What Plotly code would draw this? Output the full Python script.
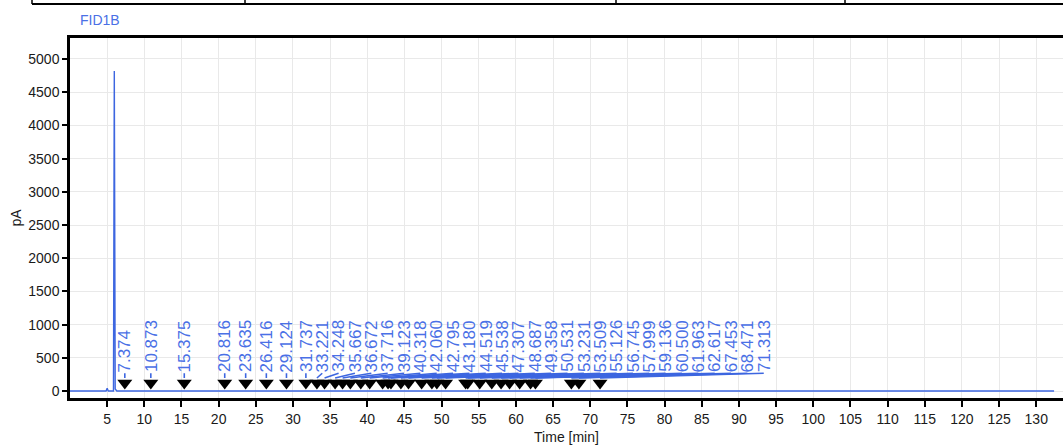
import plotly.graph_objects as go

# Chromatogram signal (time in min, signal in pA)
time_min = [0.0, 4.85, 5.0, 5.15, 5.85, 5.96, 6.08, 6.3, 132.4]
signal_pa = [0, 0, 40, 0, 0, 4820, 30, 0, 0]

# Integrated peak retention times (labels)
peak_rt = [7.374, 10.873, 15.375, 20.816, 23.635, 26.416, 29.124, 31.737, 33.221,
           34.248, 35.667, 36.672, 37.716, 39.123, 40.318, 42.060, 42.795, 43.180,
           44.519, 45.538, 47.307, 48.687, 49.358, 50.531, 53.231, 53.509, 55.126,
           56.745, 57.999, 59.136, 60.500, 61.963, 62.617, 67.453, 68.471, 71.313]
peak_labels = ["%.3f" % v for v in peak_rt]

x_ticks = list(range(5, 131, 5))
y_ticks = list(range(0, 5001, 500))

BLUE = "#4a70e6"
LINE_BLUE = "#3d66e0"

# label layout: keep a minimum gap between labels (collision avoidance)
MIN_GAP = 2.2
label_pos = []
for rt in peak_rt:
    if label_pos:
        label_pos.append(max(rt, label_pos[-1] + MIN_GAP))
    else:
        label_pos.append(rt)

LABEL_Y = 268
LEADER_END_Y = 196
MARKER_Y = 122

fig = go.Figure()

fig.add_trace(go.Scatter(x=time_min, y=signal_pa, mode="lines",
                         line=dict(color=LINE_BLUE, width=1.4),
                         hoverinfo="skip", showlegend=False))

lx, ly = [], []
for lp, rt in zip(label_pos, peak_rt):
    lx += [lp, rt, None]
    ly += [LABEL_Y, LEADER_END_Y, None]
fig.add_trace(go.Scatter(x=lx, y=ly, mode="lines",
                         line=dict(color=LINE_BLUE, width=1.6),
                         hoverinfo="skip", showlegend=False))

fig.add_trace(go.Scatter(x=peak_rt, y=[MARKER_Y] * len(peak_rt), mode="markers",
                         marker=dict(symbol="triangle-down", size=13, color="black",
                                     line=dict(width=0)),
                         hoverinfo="skip", showlegend=False))

annotations = []
for lp, txt in zip(label_pos, peak_labels):
    annotations.append(dict(x=lp, y=LABEL_Y, xref="x", yref="y", text=txt,
                            textangle=-90, showarrow=False, xanchor="center",
                            yanchor="bottom", borderpad=0,
                            font=dict(family="Liberation Sans, Arial", size=17, color=BLUE)))

annotations.append(dict(x=(78 - 70) / 993, y=(398 - 20) / 360, xref="paper", yref="paper",
                        text="FID1B", showarrow=False, xanchor="left", yanchor="middle",
                        font=dict(family="Liberation Sans, Arial", size=14, color=BLUE)))

shapes = []
# remnant of table border above the chart
y_top = (398 - 4) / 360
shapes.append(dict(type="line", xref="paper", yref="paper",
                   x0=(32 - 70) / 993, x1=1.0, y0=y_top, y1=y_top,
                   line=dict(color="black", width=2)))
for px in [32, 245, 616, 845]:
    xp = (px - 70) / 993
    shapes.append(dict(type="line", xref="paper", yref="paper",
                       x0=xp, x1=xp, y0=y_top, y1=398 / 360 + 0.02,
                       line=dict(color="black", width=1.5)))

fig.update_layout(
    width=1063, height=445,
    margin=dict(l=70, r=0, t=38, b=47),
    paper_bgcolor="white", plot_bgcolor="white",
    font=dict(family="Liberation Sans, Arial", size=14, color="#1a1a1a"),
    annotations=annotations,
    shapes=shapes,
    showlegend=False,
)

fig.update_xaxes(range=[0, 133.6], tickvals=x_ticks, ticktext=[str(v) for v in x_ticks],
                 showgrid=True, gridcolor="#e9e9e9", gridwidth=1,
                 showline=True, linecolor="black", linewidth=2.5, mirror=True,
                 ticks="outside", ticklen=6, tickwidth=1.5, tickcolor="black",
                 tickfont=dict(size=14, color="#1a1a1a"),
                 title=dict(text="Time [min]", font=dict(size=14, color="#1a1a1a"), standoff=7),
                 zeroline=False)
fig.update_yaxes(range=[-105, 5316], tickvals=y_ticks, ticktext=[str(v) for v in y_ticks],
                 showgrid=True, gridcolor="#e9e9e9", gridwidth=1,
                 showline=True, linecolor="black", linewidth=2.5, mirror=False,
                 ticks="outside", ticklen=5, tickwidth=1.5, tickcolor="black",
                 tickfont=dict(size=14, color="#1a1a1a"),
                 title=dict(text="pA", font=dict(size=14, color="#1a1a1a"), standoff=4),
                 zeroline=False)

fig.write_html("out.html")
